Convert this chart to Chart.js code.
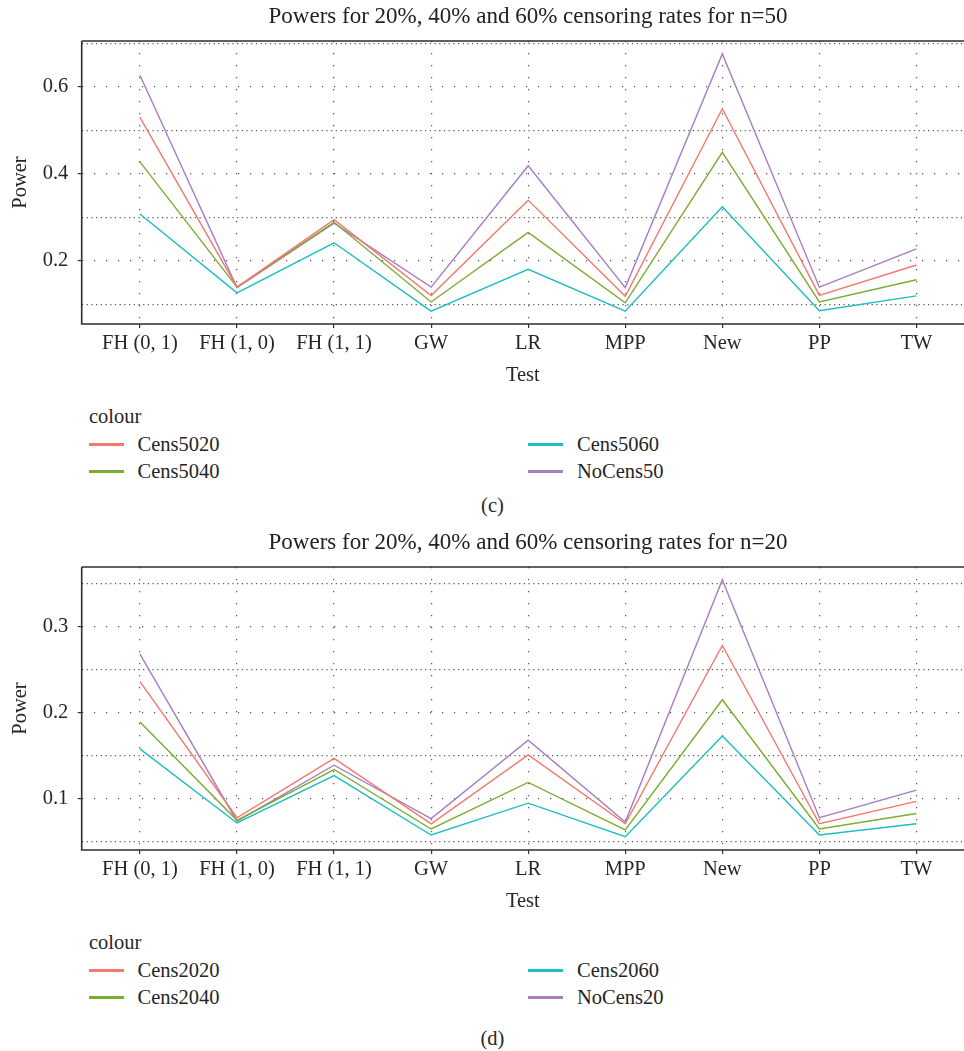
<!DOCTYPE html>
<html>
<head>
<meta charset="utf-8">
<script src="https://cdn.jsdelivr.net/npm/chart.js"></script>
<style>
  body { margin: 0; width: 964px; height: 1051px; overflow: hidden; background: #fff;
         font-family: "Liberation Serif", serif; color: #262626; position: relative; }
  .panel { position: absolute; left: 0; width: 964px; height: 526px; overflow: hidden; }
  .panel canvas { position: absolute; left: 0; top: 0; }
  .txt { position: absolute; font-size: 20.5px; line-height: 24px; margin-top: -12px; white-space: nowrap; }
  .ttl { position: absolute; font-size: 23px; line-height: 28px; margin-top: -14px; white-space: nowrap;
         color: #222; text-align: center; }
  .key { position: absolute; width: 35px; height: 2.6px; margin-top: -1.3px; }
</style>
</head>
<body>

<div class="panel" id="panel50" style="top:0px">
  <canvas id="chart50" width="964" height="395"></canvas>
</div>
<div class="panel" id="panel20" style="top:526px">
  <canvas id="chart20" width="964" height="395"></canvas>
</div>

<script>
// ---- data ----
const tests = ['FH (0, 1)', 'FH (1, 0)', 'FH (1, 1)', 'GW', 'LR', 'MPP', 'New', 'PP', 'TW'];

// n = 50
const cens5020 = [0.530, 0.140, 0.295, 0.121, 0.340, 0.119, 0.550, 0.121, 0.191];
const cens5040 = [0.428, 0.140, 0.289, 0.106, 0.266, 0.104, 0.450, 0.106, 0.157];
const cens5060 = [0.308, 0.127, 0.242, 0.085, 0.181, 0.085, 0.325, 0.086, 0.120];
const noCens50 = [0.627, 0.139, 0.287, 0.140, 0.419, 0.139, 0.676, 0.140, 0.228];

// n = 20
const cens2020 = [0.236, 0.078, 0.147, 0.071, 0.151, 0.071, 0.278, 0.071, 0.097];
const cens2040 = [0.189, 0.075, 0.134, 0.065, 0.119, 0.064, 0.215, 0.065, 0.083];
const cens2060 = [0.158, 0.072, 0.127, 0.058, 0.095, 0.056, 0.173, 0.058, 0.071];
const noCens20 = [0.268, 0.074, 0.139, 0.077, 0.168, 0.073, 0.354, 0.078, 0.110];

// y ticks: all grid lines, and the labelled (major) ones
const yTicks50 = [0.1, 0.2, 0.3, 0.4, 0.5, 0.6, 0.7];
const yLabels50 = [0.2, 0.4, 0.6];
const yTicks20 = [0.05, 0.1, 0.15, 0.2, 0.25, 0.3, 0.35];
const yLabels20 = [0.1, 0.2, 0.3];

const colours = ['#F5786E', '#79AD2F', '#1CBDC3', '#A77EC4'];
const FONT = '"Liberation Serif", serif';

// x range: the panel is cut at the right edge of the figure, so the axis stops at ~8.49
const X_MIN = -0.6, X_MAX = 8.49;

// ---- panel border: left, top and bottom (right side is cut off) ----
const panelBorder = {
    id: 'panelBorder',
    afterDatasetsDraw(chart) {
        const a = chart.chartArea, c = chart.ctx;
        c.save();
        c.strokeStyle = '#2e2e2e';
        c.lineWidth = 1.6;
        c.beginPath();
        c.moveTo(a.left, a.top);
        c.lineTo(a.right, a.top);
        c.moveTo(a.left, a.top);
        c.lineTo(a.left, a.bottom);
        c.lineTo(a.right, a.bottom);
        c.stroke();
        c.restore();
    }
};

function isMajor(v, labels) {
    return labels.some(l => Math.abs(l - v) < 1e-9);
}

function makeChart(id, names, series, yMin, yMax, yTicks, yLabels) {
    return new Chart(document.getElementById(id), {
        type: 'line',
        data: {
            datasets: series.map((vals, k) => ({
                label: names[k],
                data: vals.map((v, i) => ({x: i, y: v})),
                borderColor: colours[k],
                borderWidth: 1.4,
                pointRadius: 0,
                tension: 0,
                fill: false
            }))
        },
        options: {
            responsive: false,
            animation: false,
            devicePixelRatio: 1,
            // room at the top for the html title
            layout: {padding: {top: 41, left: 0, right: 0, bottom: 0}},
            plugins: {
                legend: {display: false},
                tooltip: {enabled: false}
            },
            scales: {
                x: {
                    type: 'linear',
                    min: X_MIN,
                    max: X_MAX,
                    afterBuildTicks: s => { s.ticks = tests.map((t, i) => ({value: i})); },
                    afterFit: s => { s.height = 71; s.paddingLeft = 0; s.paddingRight = 0; },
                    ticks: {
                        autoSkip: false,
                        maxRotation: 0,
                        padding: 3,
                        color: '#262626',
                        font: {family: FONT, size: 20.5},
                        callback: (v, i) => tests[i]
                    },
                    grid: {
                        color: '#555',
                        lineWidth: 1.2,
                        tickLength: 4,
                        tickColor: '#333',
                        tickWidth: 1.2
                    },
                    border: {display: false, dash: [1.2, 10.8]},
                    title: {
                        display: true,
                        text: 'Test',
                        color: '#262626',
                        font: {family: FONT, size: 20.5},
                        padding: {top: 0, bottom: 6.7}
                    }
                },
                y: {
                    min: yMin,
                    max: yMax,
                    afterBuildTicks: s => { s.ticks = yTicks.map(v => ({value: v})); },
                    afterFit: s => { s.width = 81.7; },
                    ticks: {
                        padding: 9.4,
                        color: '#262626',
                        font: {family: FONT, size: 20.5},
                        callback: v => isMajor(v, yLabels) ? String(+v.toFixed(2)) : ''
                    },
                    grid: {
                        color: '#555',
                        lineWidth: 1.2,
                        tickLength: 4,
                        tickWidth: 1.2,
                        tickColor: ctx => (ctx.tick && isMajor(ctx.tick.value, yLabels)) ? '#333' : 'rgba(0,0,0,0)'
                    },
                    border: {
                        display: false,
                        dash: ctx => (ctx.tick && isMajor(ctx.tick.value, yLabels)) ? [1.2, 10.8] : [1.2, 3.5]
                    },
                    title: {
                        display: true,
                        text: 'Power',
                        color: '#262626',
                        font: {family: FONT, size: 20.5},
                        padding: {top: 8, bottom: 0}
                    }
                }
            }
        },
        plugins: [panelBorder]
    });
}

// ---- title, legend and caption as html text ----
function addTexts(panelId, title, names, caption, capY) {
    const p = document.getElementById(panelId);
    const add = (cls, css, text) => {
        const d = document.createElement('div');
        d.className = cls;
        d.style.cssText = css;
        if (text) d.textContent = text;
        p.appendChild(d);
    };
    // title centred over the (uncut) plot panel
    add('ttl', 'left:0;width:1056px;top:15.9px', title);
    add('txt', 'left:89px;top:416px', 'colour');
    // two columns, filled column by column like ggplot
    const colX = [[89, 137.5], [528, 577]];
    const rowY = [444.5, 471.5];
    names.forEach((n, k) => {
        const col = Math.floor(k / 2), row = k % 2;
        add('key', 'left:' + colX[col][0] + 'px;top:' + rowY[row] + 'px;background:' + colours[k]);
        add('txt', 'left:' + colX[col][1] + 'px;top:' + (rowY[row] - 1) + 'px', n);
    });
    add('txt', 'left:470px;width:45px;text-align:center;top:' + capY + 'px', caption);
}

const names50 = ['Cens5020', 'Cens5040', 'Cens5060', 'NoCens50'];
const names20 = ['Cens2020', 'Cens2040', 'Cens2060', 'NoCens20'];

makeChart('chart50', names50, [cens5020, cens5040, cens5060, noCens50], 0.0554, 0.7056, yTicks50, yLabels50);
makeChart('chart20', names20, [cens2020, cens2040, cens2060, noCens20], 0.0406, 0.369, yTicks20, yLabels20);

addTexts('panel50', 'Powers for 20%, 40% and 60% censoring rates for n=50', names50, '(c)', 505);
addTexts('panel20', 'Powers for 20%, 40% and 60% censoring rates for n=20', names20, '(d)', 512);
</script>
</body>
</html>
